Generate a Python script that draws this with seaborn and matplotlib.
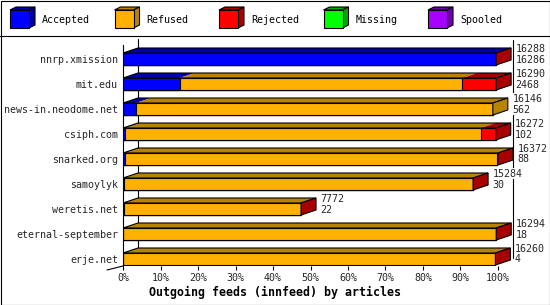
import matplotlib
matplotlib.use('Agg')
import matplotlib.pyplot as plt
import seaborn as sns
import numpy as np
import pandas as pd
from matplotlib.patches import Polygon, Rectangle
from matplotlib.lines import Line2D

# ---------------- data ----------------
feeds = ['nnrp.xmission', 'mit.edu', 'news-in.neodome.net', 'csiph.com',
         'snarked.org', 'samoylyk', 'weretis.net', 'eternal-september', 'erje.net']
offered = [16288, 16290, 16146, 16272, 16372, 15284, 7772, 16294, 16260]
accepted = [16286, 2468, 562, 102, 88, 30, 22, 18, 4]
rejected = [2, 1473, 0, 653, 40, 25, 12, 20, 40]
missing = [0, 0, 0, 0, 0, 0, 0, 0, 0]
spooled = [0, 0, 0, 0, 0, 0, 0, 0, 0]
refused = [o - a - r - m - s for o, a, r, m, s in
           zip(offered, accepted, rejected, missing, spooled)]

series_names = ['Accepted', 'Refused', 'Rejected', 'Missing', 'Spooled']
front_colors = ['#0000ff', '#ffb000', '#ff0000', '#00ff00', '#a800ff']
dark_colors = ['#0000a8', '#b88400', '#a80000', '#00a800', '#7000a8']

title = 'Outgoing feeds (innfeed) by articles'
xtick_vals = list(range(0, 101, 10))
xtick_labels = [f'{v}%' for v in xtick_vals]

# ---------------- style ----------------
sns.set_theme(style='white')
plt.rcParams['font.family'] = ['DejaVu Sans Mono']
FS = 7.2
LW = 0.8

W, H = 550, 305
fig = plt.figure(figsize=(W / 100, H / 100), dpi=100)

# background / frame / legend (pixel coordinates)
bg = fig.add_axes([0, 0, 1, 1])
bg.set_xlim(0, W)
bg.set_ylim(H, 0)
bg.axis('off')
bg.add_patch(Rectangle((0.5, 0.5), W - 1, H - 1, fill=False, ec='black', lw=LW))
bg.add_line(Line2D([0, W], [35.5, 35.5], color='black', lw=LW))

for i, name in enumerate(series_names):
    x0 = 10 + i * 104.5
    fw, fh, ddx, ddy = 19, 18, 6, 3
    bg.add_patch(Polygon([(x0, 10), (x0 + fw, 10), (x0 + fw + ddx, 10 - ddy), (x0 + ddx, 10 - ddy)],
                         closed=True, fc=dark_colors[i], ec='black', lw=LW))
    bg.add_patch(Polygon([(x0 + fw, 10), (x0 + fw + ddx, 10 - ddy), (x0 + fw + ddx, 10 + fh - ddy),
                          (x0 + fw, 10 + fh)], closed=True, fc=dark_colors[i], ec='black', lw=LW))
    bg.add_patch(Rectangle((x0, 10), fw, fh, fc=front_colors[i], ec='black', lw=LW))
    bg.text(x0 + 32, 20, name, ha='left', va='center', fontsize=FS, color='black')

# main axes
ax_left, ax_right, ax_top, ax_bot = 123, 498, 45, 266
ax = fig.add_axes([ax_left / W, (H - ax_bot) / H, (ax_right - ax_left) / W, (ax_bot - ax_top) / H])

scale = 100.0 / max(offered)
stack = np.array([accepted, refused, rejected, missing, spooled], dtype=float) * scale
cums = np.cumsum(stack, axis=0)

BH = 0.48
for k in reversed(range(len(series_names))):
    sns.barplot(x=cums[k], y=feeds, orient='h', color=front_colors[k], saturation=1,
                width=BH, edgecolor='black', linewidth=LW, ax=ax, zorder=2)

ylim = (8.28, -0.56)
ax.set_xlim(0, 100)
ax.set_ylim(*ylim)

px_x = (ax_right - ax_left) / 100.0   # pixels per percent
px_y = (ax_bot - ax_top) / (ylim[0] - ylim[1])  # pixels per row
dx = 15 / px_x
dy = 5 / px_y

for i in range(len(feeds)):
    t = i - BH / 2
    b = i + BH / 2
    prev = 0.0
    last_k = None
    for k in range(len(series_names)):
        xa, xb = prev, cums[k][i]
        if xb - xa > 0:
            ax.add_patch(Polygon([(xa, t), (xb, t), (xb + dx, t - dy), (xa + dx, t - dy)],
                                 closed=True, fc=dark_colors[k], ec='none', clip_on=False, zorder=2))
            last_k = k
        prev = xb
    xe = cums[-1][i]
    ax.add_patch(Polygon([(0, t), (xe, t), (xe + dx, t - dy), (dx, t - dy)], closed=True,
                         fill=False, ec='black', lw=LW, clip_on=False, zorder=2.5))
    ax.add_patch(Polygon([(xe, t), (xe + dx, t - dy), (xe + dx, b - dy), (xe, b)], closed=True,
                         fc=dark_colors[last_k], ec='black', lw=LW, clip_on=False, zorder=2.5))
    lx = xe + dx + 4.5 / px_x
    bbox = dict(fc='white', ec='none', pad=0.3)
    ax.text(lx, i - 10.5 / px_y, f'{offered[i]}', ha='left', va='center', fontsize=FS,
            bbox=bbox, zorder=4, clip_on=False)
    ax.text(lx, i + 0.5 / px_y, f'{accepted[i]}', ha='left', va='center', fontsize=FS,
            bbox=bbox, zorder=4, clip_on=False)

# 3D frame lines
ax.add_line(Line2D([dx, dx], [ylim[1] - 6 / px_y, len(feeds) - 1 - BH / 2 - dy],
                   color='black', lw=LW, clip_on=False, zorder=1))
ax.add_line(Line2D([100 + dx, 100 + dx], [ylim[1] - 5 / px_y, len(feeds) - 1 - 1 / px_y],
                   color='black', lw=LW, clip_on=False, zorder=1))
ax.add_line(Line2D([0, -16 / px_x], [ylim[0], ylim[0] + 4 / px_y],
                   color='black', lw=LW, clip_on=False, zorder=1))

for s in ['top', 'right', 'bottom']:
    ax.spines[s].set_visible(False)
ax.spines['left'].set_color('black')
ax.spines['left'].set_linewidth(LW)
ax.patch.set_alpha(0)

ax.set_xticks(xtick_vals)
ax.set_xticklabels(xtick_labels)
ax.tick_params(axis='x', direction='out', length=3, width=LW, color='black',
               labelsize=FS, pad=2, bottom=True)
ax.tick_params(axis='y', length=0, pad=3.6, labelsize=FS, left=False)
ax.set_xlabel('')
ax.set_ylabel('')
ax.grid(False)

fig.text(0.5, 1 - 292 / H, title, ha='center', va='center', fontsize=8.4,
         fontweight='bold', color='black')

fig.savefig('out.png', dpi=100)
